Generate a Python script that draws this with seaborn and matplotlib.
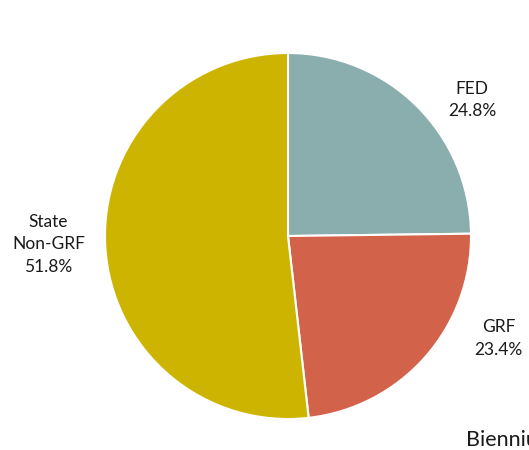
import numpy as np
import matplotlib
matplotlib.use("Agg")
import matplotlib.pyplot as plt
import seaborn as sns

# data
categories = ["FED", "GRF", "State\nNon-GRF"]
shares = [24.8, 23.4, 51.8]
colors = ["#8aadad", "#d2634a", "#cdb400"]

# label placement (fraction of radius, angle in degrees) tuned to the reference
label_pos = [(1.25, 36.5), (1.28, -26.0), (1.31, 182.0)]

sns.set_theme(style="white")
plt.rcParams["font.family"] = ["Lato", "DejaVu Sans"]

fig = plt.figure(figsize=(5.29, 4.5), dpi=100)
fig.patch.set_facecolor("white")

cx, cy, r = 288, 236, 183
ax = fig.add_axes([(cx - r) / 529, (450 - cy - r) / 450, 2 * r / 529, 2 * r / 450])

wedges, _ = ax.pie(
    shares,
    colors=colors,
    startangle=90,
    counterclock=False,
    radius=1.0,
    wedgeprops={"edgecolor": "white", "linewidth": 1.5},
)

for cat, val, (dist, ang) in zip(categories, shares, label_pos):
    a = np.deg2rad(ang)
    ax.text(
        dist * np.cos(a),
        dist * np.sin(a),
        f"{cat}\n{val:.1f}%",
        ha="center",
        va="center",
        fontsize=12.5,
        linespacing=1.5,
        color="#1a1a1a",
        clip_on=False,
    )

ax.set_xlim(-1, 1)
ax.set_ylim(-1, 1)
ax.set_aspect("equal")
ax.axis("off")

# title runs past the right edge in the reference as well
fig.text(466 / 529, 4 / 450, "Biennium", ha="left", va="baseline",
         fontsize=15.5, color="#1a1a1a")

fig.savefig("out.png", dpi=100)
plt.close(fig)
